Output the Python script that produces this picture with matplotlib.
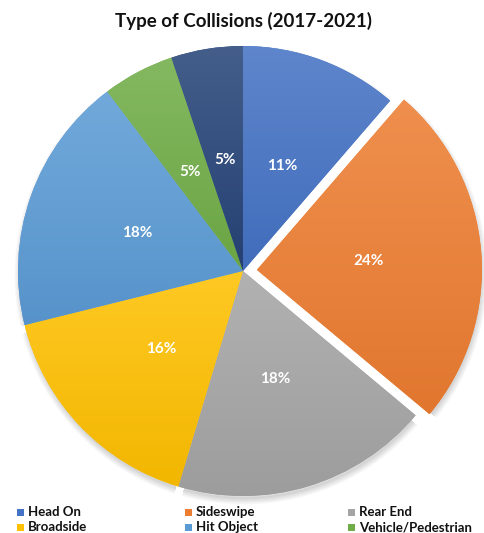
import numpy as np
import matplotlib
matplotlib.use("Agg")
import matplotlib.pyplot as plt
from matplotlib.colors import to_rgb
from matplotlib.patches import Rectangle

plt.rcParams['font.family'] = ['Lato', 'DejaVu Sans']

# Collision types and share of collisions (%)
categories = ["Head On", "Sideswipe", "Rear End", "Broadside",
              "Hit Object", "Vehicle/Pedestrian", "Other"]
shares = [11, 24, 18, 16, 18, 5, 5]
colors = ["#4472C4", "#ED7D31", "#A5A5A5", "#FFC000",
          "#5B9BD5", "#70AD47", "#264478"]
pull_out = [0, 0.062, 0, 0, 0, 0, 0]   # fraction of radius
legend_items = categories[:6]
title = "Type of Collisions (2017-2021)"

W, H = 484, 533
fig = plt.figure(figsize=(W / 100, H / 100), dpi=100)
ax = fig.add_axes([0, 0, 1, 1])

cx, cy, R = 243, H - 271, 225

wedges, texts, autotexts = ax.pie(
    shares, colors=colors, explode=[e * R for e in pull_out], startangle=90,
    counterclock=False, center=(cx, cy), radius=R,
    autopct=lambda p: f"{p * sum(shares) / 100:.0f}%",
    pctdistance=0.5, frame=True,
    wedgeprops=dict(linewidth=0, zorder=1),
    textprops=dict(color="white", fontsize=11, fontweight="bold"))

for t in autotexts:
    t.set_zorder(5)

# soft drop shadow along the outer rim of every slice
yy, xx = np.mgrid[0:H, 0:W]
px = xx + 0.5
py = (H - 0.5 - yy)
sh_alpha = np.zeros((H, W))
for w in wedges:
    wx, wy = w.center
    dx, dy = px - (wx + 1), py - (wy - 4)
    d = np.hypot(dx, dy)
    ang = np.degrees(np.arctan2(dy, dx)) % 360
    t1, t2 = w.theta1 % 360, w.theta2 % 360
    if t1 <= t2:
        inside = (ang >= t1 + 1) & (ang <= t2 - 1)
    else:
        inside = (ang >= t1 + 1) | (ang <= t2 - 1)
    a = np.clip((R + 5 - d) / 10.0, 0, 1) * np.clip((d - (R - 6)) / 4, 0, 1)
    sh_alpha = np.maximum(sh_alpha, np.where(inside, a, 0))
sh = np.zeros((H, W, 4))
sh[..., :3] = 0.45
sh[..., 3] = sh_alpha * 0.45
ax.imshow(sh, extent=(0, W, 0, H), origin="upper", zorder=0,
          interpolation="bilinear")


def mix(c, other, f):
    c = np.array(to_rgb(c))
    return c * (1 - f) + np.array(other) * f


# vertical gradient fill inside each slice
for w, c in zip(wedges, colors):
    bb = w.get_path().get_extents(w.get_patch_transform())
    top = mix(c, (1, 1, 1), 0.14)
    bot = mix(c, (0, 0, 0), 0.05)
    f = np.linspace(0, 1, 256)[:, None]
    grad = top[None, :] * (1 - f) + bot[None, :] * f
    img = np.repeat(grad[:, None, :], 2, axis=1)
    im = ax.imshow(img, extent=(bb.x0, bb.x1, bb.y0, bb.y1), origin="upper",
                   zorder=2, interpolation="bilinear", aspect="auto")
    im.set_clip_path(w)

ax.set_xlim(0, W)
ax.set_ylim(0, H)
ax.set_aspect("auto")
ax.axis("off")

fig.text(243 / W, 1 - 21 / H, title, ha="center", va="center",
         fontsize=13.5, fontweight="bold", color="#111111")

# legend in three columns, row-major order
col_x = [17, 185, 348]
row_y = [512, 527]
for i, (lab, c) in enumerate(zip(legend_items, colors)):
    r, k = divmod(i, 3)
    x, y = col_x[k], row_y[r]
    fig.patches.append(Rectangle((x / W, 1 - (y + 3.5) / H), 7 / W, 7 / H,
                                 transform=fig.transFigure, facecolor=c,
                                 edgecolor="none"))
    fig.text((x + 11) / W, 1 - y / H, lab, ha="left", va="center",
             fontsize=9.5, fontweight="bold", color="#111111")

fig.savefig("out.png", dpi=100)
